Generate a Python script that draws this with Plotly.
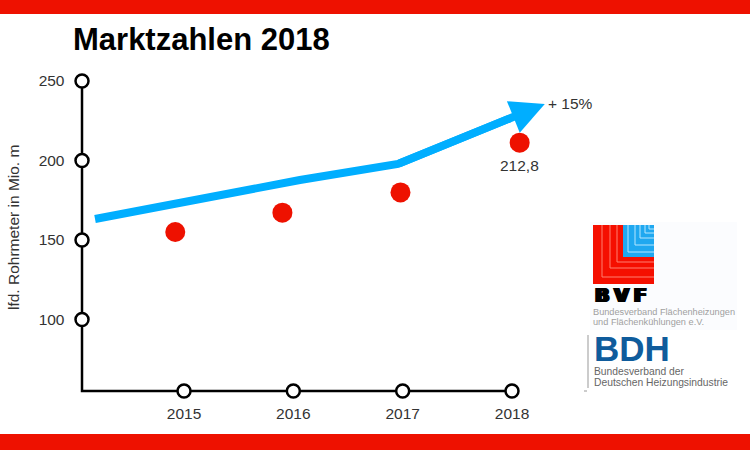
import plotly.graph_objects as go

# data
years = [2015, 2016, 2017, 2018]
year_labels = ['2015', '2016', '2017', '2018']
y_ticks = [100, 150, 200, 250]

point_x = [2014.92, 2015.90, 2016.98, 2018.07]
point_y = [155.0, 167.2, 179.9, 211.2]

trend_x = [2014.186, 2016.06, 2016.957, 2017.98]
trend_y = [163.2, 187.7, 197.8, 226.5]
arrow_tip_x = 2018.30
arrow_tip_y = 235.5

# where the drawn axes start and end
x_start = 2014.067
x_end = 2018.0
y_start = 55
y_end = 250

# the plot area is a bit bigger than the drawn axes, nothing gets clipped
x_range = [2013.916, 2018.439]
y_range = [48.08, 256.92]

red = '#ee1100'
blue = '#00aeff'
grey = '#a0a0a0'
text_color = '#333333'
font_name = 'Liberation Sans'


# paper coordinates from pixels of the 750x450 page
def px(x):
    return x / 750


def py(y):
    return 1 - y / 450


def rect(x0, y0, x1, y1, color):
    return dict(type='rect', xref='paper', yref='paper', x0=px(x0), x1=px(x1),
                y0=py(y0), y1=py(y1), fillcolor=color, line_width=0, layer='below')


def vline(x, y0, y1, color, width=1):
    return dict(type='line', xref='paper', yref='paper', x0=px(x), x1=px(x),
                y0=py(y0), y1=py(y1), line=dict(color=color, width=width), layer='below')


def hline(x0, x1, y, color, width=1):
    return dict(type='line', xref='paper', yref='paper', x0=px(x0), x1=px(x1),
                y0=py(y), y1=py(y), line=dict(color=color, width=width), layer='below')


def label(x, y, text, size, color, family=font_name, xanchor='left', textangle=0, **kw):
    return dict(xref='paper', yref='paper', x=px(x), y=py(y), text=text, showarrow=False,
                xanchor=xanchor, yanchor='middle', textangle=textangle,
                font=dict(size=size, color=color, family=family, **kw))


fig = go.Figure()

# the two axes as one path, so the open circles sit right on it
fig.add_trace(go.Scatter(
    x=[x_start, x_start, x_end], y=[y_end, y_start, y_start], mode='lines',
    line=dict(color='black', width=2.5), showlegend=False,
))
fig.add_trace(go.Scatter(
    x=trend_x, y=trend_y, mode='lines',
    line=dict(color=blue, width=8), showlegend=False,
))
fig.add_trace(go.Scatter(
    x=point_x, y=point_y, mode='markers',
    marker=dict(color=red, size=20), showlegend=False,
))
# open circles on the two axes
fig.add_trace(go.Scatter(
    x=[x_start] * len(y_ticks), y=y_ticks, mode='markers',
    marker=dict(color='white', size=13, line=dict(color='black', width=2.5)),
    showlegend=False,
))
fig.add_trace(go.Scatter(
    x=years, y=[y_start] * len(years), mode='markers',
    marker=dict(color='white', size=13, line=dict(color='black', width=2.5)),
    showlegend=False,
))

# bars and logos
shapes = [
    rect(0, 0, 750, 14, red),
    rect(0, 434, 750, 450, red),
    rect(590, 222, 737, 330, '#fbfcfe'),
    rect(593, 225, 654, 284, '#f50f00'),
    rect(623, 225, 654, 257, '#1fa8f0'),
]
for x, y in [(602, 277), (610, 268), (617, 262)]:
    shapes.append(vline(x, 225, y, '#ff8070'))
    shapes.append(hline(x, 654, y, '#ff8070'))
for x, y in [(628, 252), (635, 245), (640, 238), (645, 233), (649, 229)]:
    shapes.append(vline(x, 225, y, '#b5e6ff'))
    shapes.append(hline(x, 654, y, '#b5e6ff'))
shapes.append(vline(588, 335, 388, '#bbbbbb', 1.5))
shapes.append(hline(584, 587, 391, '#999999', 1))

annotations = [
    dict(xref='x', yref='y', axref='x', ayref='y',
         x=arrow_tip_x, y=arrow_tip_y, ax=trend_x[-2], ay=trend_y[-2], text='',
         showarrow=True, arrowhead=2, arrowsize=0.85, arrowwidth=8, arrowcolor=blue),
    label(546, 103, '+ 15%', 15.5, text_color),
    label(519.5, 166, '212,8', 15.5, text_color, xanchor='center'),
    label(13, 228, 'lfd. Rohrmeter in Mio. m', 15.5, text_color, xanchor='center', textangle=-90),
    label(593, 294.5, '<b>B\u2005V\u2005F</b>', 19, 'black', family='DejaVu Sans',
          shadow='1.5px 0 0 black, -1.5px 0 0 black, 1px 0 0 black, -1px 0 0 black'),
    label(591, 312, 'Bundesverband Flächenheizungen', 9.2, grey),
    label(591, 322, 'und Flächenkühlungen e.V.', 9.2, grey),
    dict(label(592, 348, '<b>BDH</b>', 35, '#0f5c9c'), height=26),
    label(592, 371, 'Bundesverband der', 10.3, '#666666'),
    label(592, 382, 'Deutschen Heizungsindustrie', 10.3, '#666666'),
]

fig.update_layout(
    width=750,
    height=450,
    margin=dict(l=0, r=0, t=0, b=0, pad=0),
    paper_bgcolor='white',
    plot_bgcolor='white',
    font=dict(family=font_name, size=15.5, color=text_color),
    title=dict(text='<b>Marktzahlen 2018</b>', x=73 / 750, xanchor='left', y=1 - 39 / 450,
               yanchor='middle', automargin=False, font=dict(size=31, color='black', family=font_name)),
    shapes=shapes,
    annotations=annotations,
    xaxis=dict(
        domain=[px(65.5), px(560)], range=x_range, automargin=False,
        tickvals=years, ticktext=year_labels, ticks='', tickfont=dict(color=text_color, size=15.5),
        showgrid=False, zeroline=False, showline=False,
    ),
    yaxis=dict(
        domain=[py(402), py(70)], range=y_range, automargin=False,
        tickvals=y_ticks, ticks='', tickfont=dict(color=text_color, size=15.5),
        showgrid=False, zeroline=False, showline=False,
    ),
)

# the page has a default body margin, drop it so the figure fills the window
fig.write_html("out.html", config=dict(displayModeBar=False),
               post_script="document.body.style.margin='0'; document.documentElement.style.overflow='hidden';")
